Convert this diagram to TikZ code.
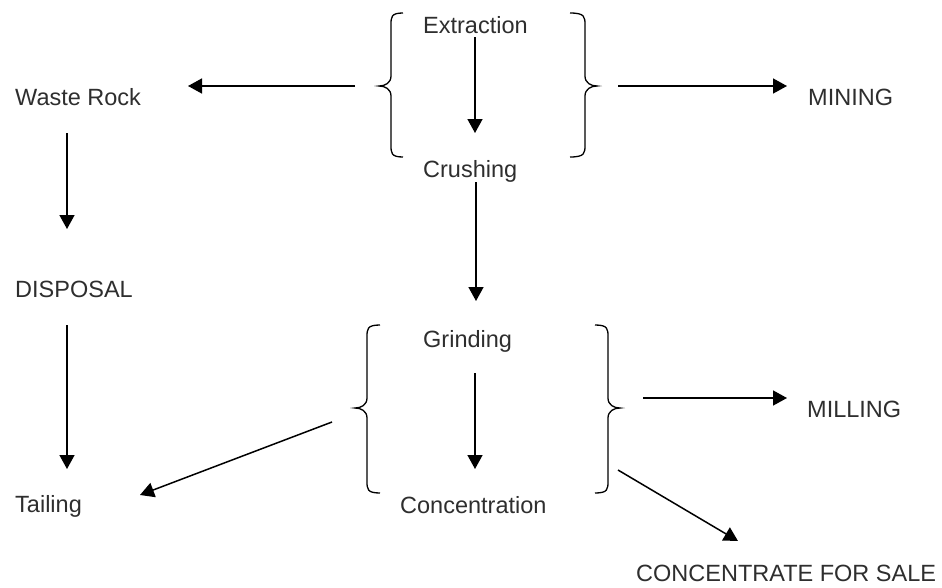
\documentclass[tikz,border=0pt]{standalone}
\usepackage{fontspec}
\setmainfont{Liberation Sans}
\usetikzlibrary{arrows.meta}
\newcommand\mybrace[6]{%
  \draw[br] (#1,#4) .. controls (#2,#4) and (#2,{#4+4}) .. (#2,{#4+12})
    -- (#2,{#5-10}) .. controls (#2,{#5-3}) and ({(#2+#3)/2},#5) .. (#3,#5)
    .. controls ({(#2+#3)/2},#5) and (#2,{#5+3}) .. (#2,{#5+10})
    -- (#2,{#6-12}) .. controls (#2,{#6-4}) and (#2,#6) .. (#1,#6);}
\begin{document}
\begin{tikzpicture}[x=1pt,y=-1pt,
  lbl/.style={inner sep=0pt, anchor=base west, font=\fontsize{23.5}{28}\selectfont, text=black!82},
  arr/.style={line width=1.5pt, -{Triangle[length=14pt,width=15pt]}},
  br/.style={line width=1.3pt}]
\useasboundingbox (0,0) rectangle (942,587);
% labels
\node[lbl] (ext) at (423,33) {Extraction};
\node[lbl] (cru) at (423,177) {Crushing};
\node[lbl] (waste) at (15,105) {Waste Rock};
\node[lbl] (mining) at (808,105) {MINING};
\node[lbl] (disp) at (15,297) {DISPOSAL};
\node[lbl] (grind) at (423,347) {Grinding};
\node[lbl] (mill) at (807,417) {MILLING};
\node[lbl] (tail) at (15,512) {Tailing};
\node[lbl] (conc) at (400,513) {Concentration};
\node[lbl] (sale) at (636,581) {CONCENTRATE FOR SALE};
% connector end points
\coordinate (e1) at (475,37);   \coordinate (e2) at (475,133);
\coordinate (m1) at (355,86);   \coordinate (m2) at (188,86);
\coordinate (r1) at (618,86);   \coordinate (r2) at (787,86);
\coordinate (w1) at (67,133);   \coordinate (w2) at (67,229);
\coordinate (c1) at (476,182);  \coordinate (c2) at (476,301);
\coordinate (d1) at (67,325);   \coordinate (d2) at (67,469);
\coordinate (g1) at (475,373);  \coordinate (g2) at (475,469);
\coordinate (t1) at (332,422);  \coordinate (t2) at (140,495);
\coordinate (l1) at (643,398);  \coordinate (l2) at (787,398);
\coordinate (s1) at (618,470);  \coordinate (s2) at (738,541);
% arrows
\draw[arr] (e1) -- (e2);
\draw[arr] (m1) -- (m2);
\draw[arr] (r1) -- (r2);
\draw[arr] (w1) -- (w2);
\draw[arr] (c1) -- (c2);
\draw[arr] (d1) -- (d2);
\draw[arr] (g1) -- (g2);
\draw[arr] (t1) -- (t2);
\draw[arr] (l1) -- (l2);
\draw[arr] (s1) -- (s2);
% braces
\mybrace{403}{391}{379}{13}{86}{157}
\mybrace{570}{585}{597}{13}{86}{157}
\mybrace{380}{367}{355}{325}{408}{493}
\mybrace{595}{608}{620}{325}{408}{493}
\end{tikzpicture}
\end{document}
